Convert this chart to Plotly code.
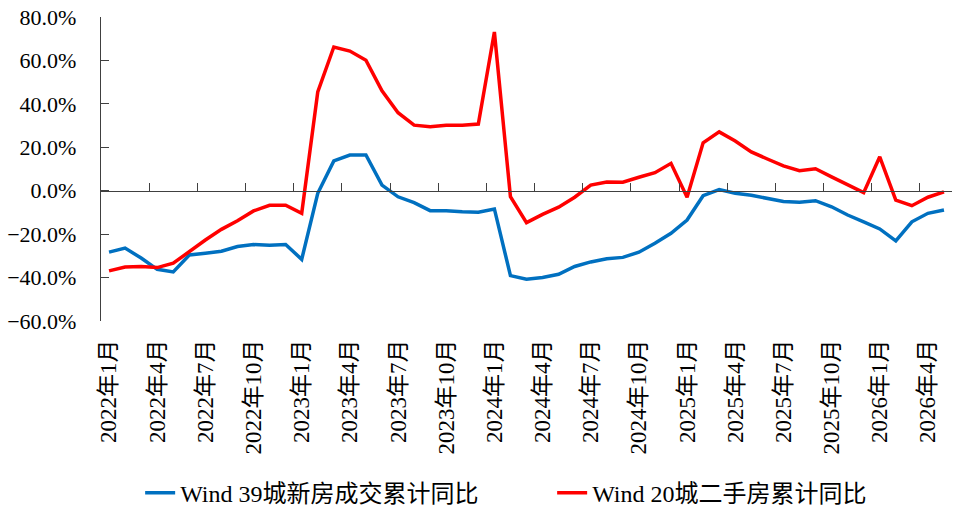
import plotly.graph_objects as go

months = [f"{y}年{m}月" for y in range(2022, 2027) for m in range(1, 13)][:53]

new_home = [-28.3, -26.4, -31.0, -36.2, -37.4, -29.6, -28.8, -27.9, -25.7, -24.8, -25.1, -24.8,
            -31.6, -1.2, 13.7, 16.4, 16.5, 2.6, -2.8, -5.5, -9.2, -9.2, -9.7, -9.9,
            -8.4, -39.1, -40.8, -40.0, -38.5, -34.9, -32.8, -31.3, -30.7, -28.3, -24.2, -19.6,
            -13.5, -2.3, 0.5, -1.2, -2.1, -3.7, -5.0, -5.3, -4.6, -7.4, -11.2, -14.3,
            -17.6, -23.1, -14.3, -10.4, -8.9]

second_hand = [-36.9, -35.1, -34.9, -35.4, -33.4, -28.0, -22.7, -17.8, -13.8, -9.3, -6.7, -6.7,
               -10.4, 45.5, 66.2, 64.3, 60.1, 46.0, 35.9, 30.2, 29.5, 30.1, 30.2, 30.7,
               73.1, -2.8, -14.7, -10.9, -7.6, -3.0, 2.6, 4.0, 3.9, 6.2, 8.3, 12.6,
               -3.0, 22.1, 27.1, 22.9, 17.9, 14.6, 11.4, 9.2, 10.1, 6.4, 2.9, -0.9,
               15.6, -4.3, -6.9, -3.0, -0.5]

series_names = ["Wind 39城新房成交累计同比", "Wind 20城二手房累计同比"]
series_colors = ["#0070C0", "#FF0000"]
y_min, y_max, y_step = -60, 80, 20

FONT = "Liberation Serif, Times New Roman, Noto Sans CJK SC, serif"
AXIS_COLOR = "#404040"

fig = go.Figure()
for name, vals, col in zip(series_names, [new_home, second_hand], series_colors):
    fig.add_trace(go.Scatter(x=months, y=vals, name=name, mode="lines",
                             line=dict(color=col, width=3.5)))

n = len(months)
# empty helper trace so the zero-line axis (with boundary ticks) is rendered
fig.add_trace(go.Scatter(x=[], y=[], xaxis="x2", yaxis="y", showlegend=False,
                         hoverinfo="skip"))

fig.update_layout(
    width=956, height=508,
    margin=dict(l=101, r=4, t=17, b=187, autoexpand=False),
    paper_bgcolor="white", plot_bgcolor="white",
    font=dict(family=FONT, size=23, color="black"),
    showlegend=True,
    legend=dict(orientation="h", x=0.046, xanchor="left", y=-0.566, yanchor="middle",
                font=dict(size=24), entrywidth=367, entrywidthmode="pixels",
                tracegroupgap=0),
    xaxis=dict(type="category", categoryorder="array", categoryarray=months,
               range=[-0.5, n - 0.5], tickmode="array", tickvals=months[::3],
               ticks="", showline=False, showgrid=False, zeroline=False,
               tickangle=-90, ticklabelstandoff=13, tickfont=dict(size=23),
               automargin=False),
    xaxis2=dict(overlaying="x", anchor="free", position=(0 - y_min) / (y_max - y_min),
                range=[-0.5, n - 0.5], tickmode="array",
                tickvals=[i - 0.5 for i in range(0, n, 3)],
                ticks="inside", ticklen=8, tickcolor=AXIS_COLOR, tickwidth=1.3,
                showticklabels=False, showline=True, linecolor=AXIS_COLOR, linewidth=1.3,
                showgrid=False, zeroline=False, automargin=False),
    yaxis=dict(range=[y_min, y_max], dtick=y_step, tick0=0, tickformat=".1f", ticksuffix="%",
               ticks="inside", ticklen=8, tickcolor=AXIS_COLOR, tickwidth=1.3,
               showline=True, linecolor=AXIS_COLOR, linewidth=1.3,
               showgrid=False, zeroline=False, ticklabelstandoff=19,
               tickfont=dict(size=22), automargin=False),
)

fig.write_html("out.html", config={"displayModeBar": False},
               post_script="document.body.style.margin='0';")
